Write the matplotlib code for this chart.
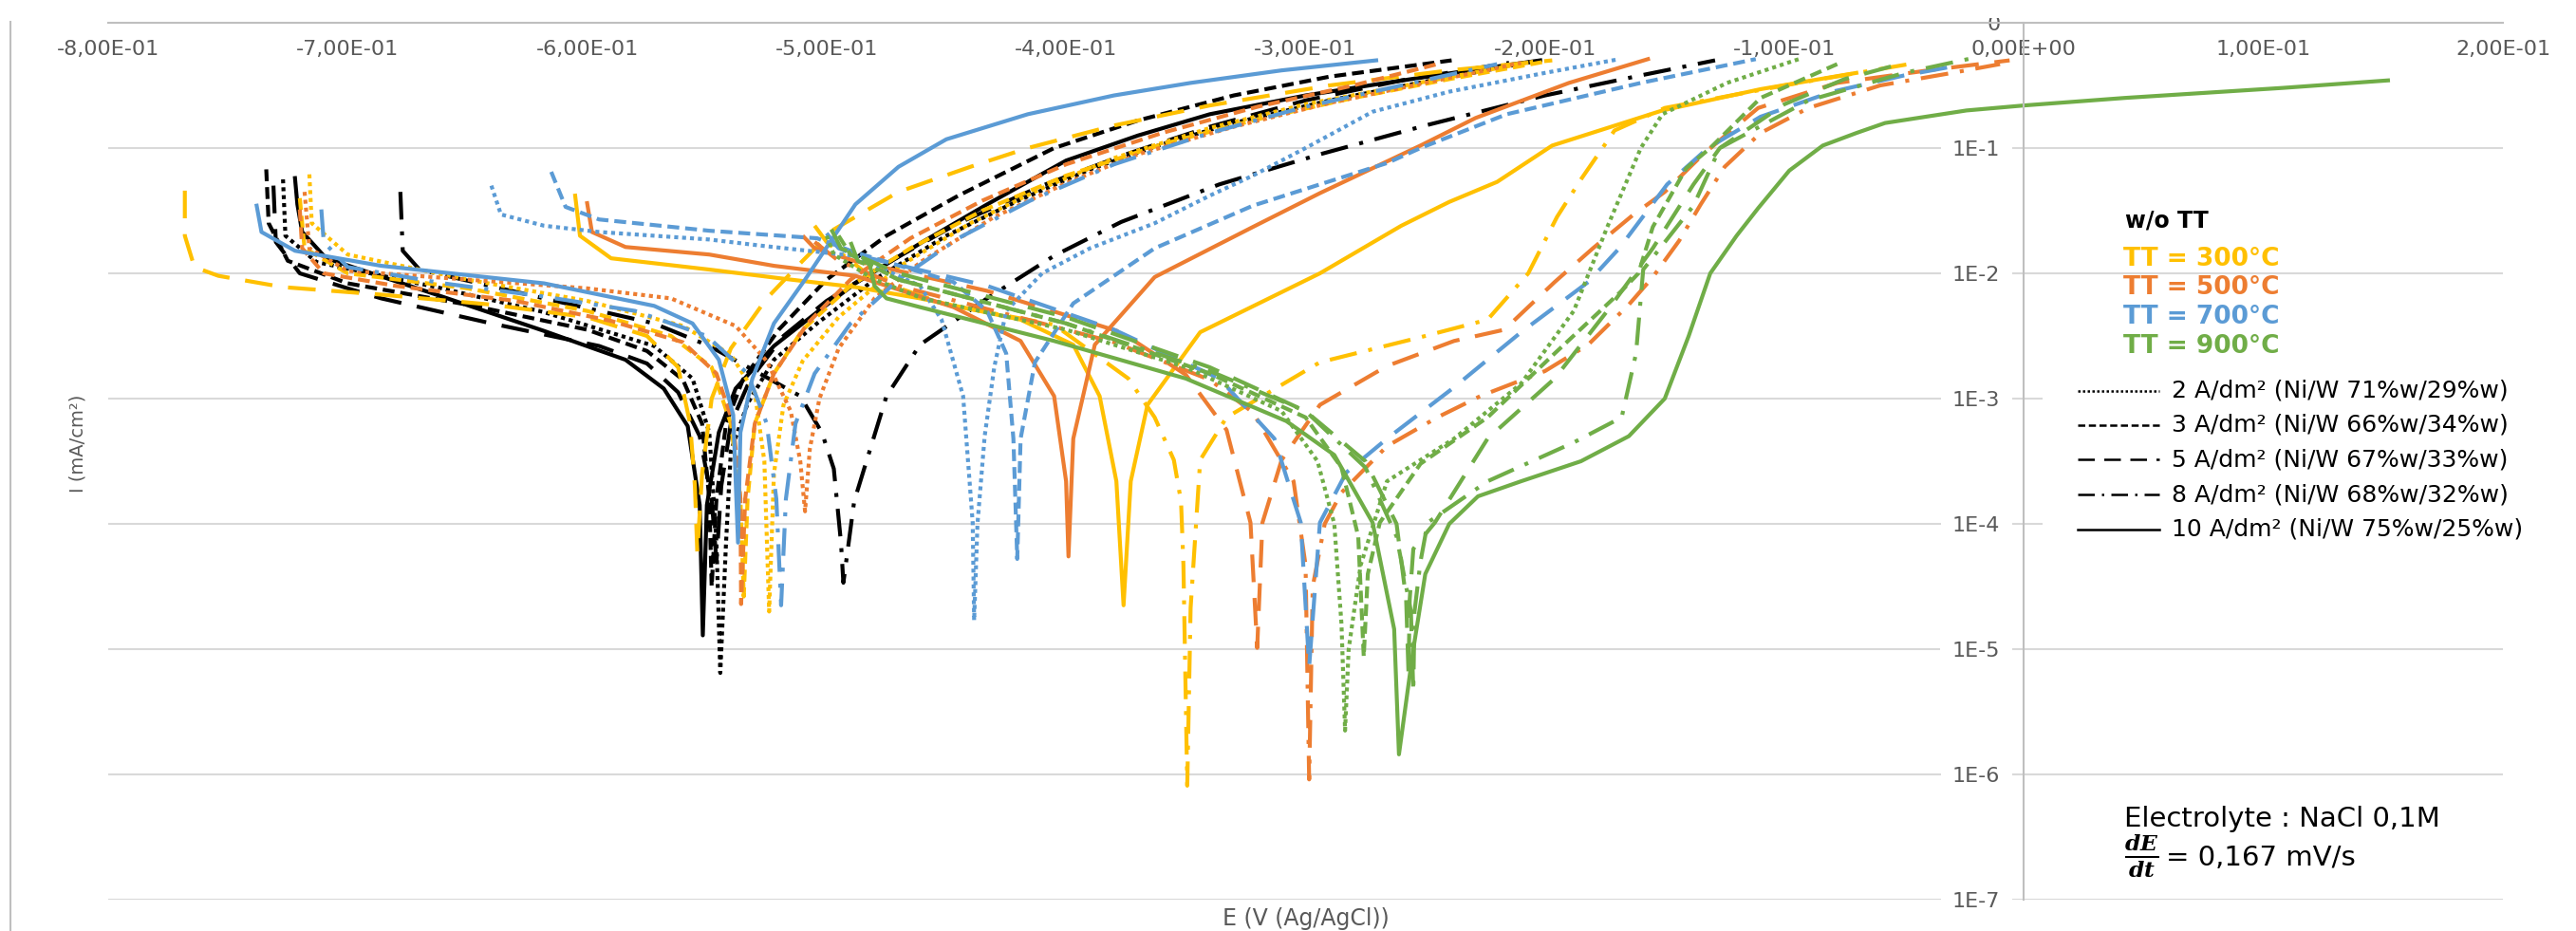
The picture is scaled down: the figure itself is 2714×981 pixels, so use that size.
import matplotlib.pyplot as plt
import numpy as np
from matplotlib.lines import Line2D
from matplotlib.patches import Rectangle
from matplotlib.ticker import FixedLocator, NullLocator, FuncFormatter

plt.rcParams['font.family'] = ['DejaVu Sans']
plt.rcParams['mathtext.fontset'] = 'dejavuserif'

W, H = 2714, 981

# Polarisation curves: E in V vs Ag/AgCl, lg = log10(I in mA/cm2)
# --- w/o TT (black) ---
k2_E = [-0.727, -0.726, -0.713, -0.663, -0.618, -0.572, -0.556, -0.549, -0.546, -0.5444, -0.542, -0.540,
        -0.533, -0.522, -0.504, -0.480, -0.450, -0.420, -0.390, -0.360, -0.330, -0.290, -0.250, -0.205]
k2_lg = [-1.25, -1.70, -1.91, -2.11, -2.31, -2.58, -2.84, -3.27, -4.15, -5.19, -4.15, -3.42,
         -3.04, -2.69, -2.40, -2.05, -1.70, -1.42, -1.17, -0.97, -0.80, -0.62, -0.47, -0.31]
k3_E = [-0.734, -0.733, -0.725, -0.700, -0.650, -0.600, -0.575, -0.560, -0.552, -0.549, -0.548, -0.546,
        -0.542, -0.535, -0.520, -0.500, -0.475, -0.445, -0.405, -0.370, -0.330, -0.290, -0.239]
k3_lg = [-1.17, -1.60, -1.90, -2.08, -2.25, -2.45, -2.62, -2.85, -3.20, -3.80, -4.50, -3.80,
         -3.20, -2.85, -2.45, -2.05, -1.70, -1.38, -1.00, -0.78, -0.58, -0.43, -0.30]
k5_E = [-0.731, -0.730, -0.720, -0.700, -0.686, -0.640, -0.595, -0.575, -0.562, -0.553, -0.548, -0.546, -0.544,
        -0.540, -0.532, -0.518, -0.500, -0.475, -0.445, -0.410, -0.375, -0.340, -0.300, -0.260, -0.215]
k5_lg = [-1.30, -1.75, -2.00, -2.12, -2.20, -2.40, -2.58, -2.72, -2.95, -3.30, -3.80, -4.30, -3.70,
         -3.20, -2.85, -2.50, -2.22, -1.92, -1.60, -1.30, -1.05, -0.83, -0.62, -0.46, -0.32]
k8_E = [-0.678, -0.677, -0.670, -0.618, -0.572, -0.549, -0.527, -0.511, -0.502, -0.497, -0.494, -0.493,
        -0.4885, -0.475, -0.461, -0.433, -0.405, -0.377, -0.336, -0.294, -0.250, -0.200, -0.160, -0.129]
k8_lg = [-1.35, -1.82, -1.97, -2.20, -2.40, -2.58, -2.81, -2.98, -3.27, -3.56, -4.15, -4.47,
         -3.82, -2.98, -2.57, -2.20, -1.86, -1.59, -1.29, -1.05, -0.82, -0.58, -0.42, -0.30]
k10_E = [-0.722, -0.721, -0.719, -0.709, -0.663, -0.618, -0.584, -0.568, -0.558, -0.553, -0.5517, -0.550, -0.545,
         -0.538, -0.522, -0.504, -0.488, -0.460, -0.433, -0.400, -0.370, -0.340, -0.300, -0.270, -0.235, -0.202]
k10_lg = [-1.24, -1.45, -1.67, -1.88, -2.17, -2.46, -2.69, -2.92, -3.22, -3.85, -4.89, -3.85, -3.27,
          -2.92, -2.58, -2.31, -2.08, -1.75, -1.45, -1.10, -0.90, -0.73, -0.58, -0.49, -0.39, -0.30]

# --- TT = 300 C (yellow) ---
y2_E = [-0.716, -0.715, -0.700, -0.650, -0.600, -0.560, -0.540, -0.530, -0.526, -0.524, -0.522,
        -0.518, -0.510, -0.495, -0.470, -0.440, -0.410, -0.380, -0.340, -0.300, -0.250, -0.205]
y2_lg = [-1.21, -1.60, -1.85, -2.05, -2.22, -2.42, -2.65, -2.95, -3.50, -4.70, -3.60,
         -3.05, -2.70, -2.35, -1.95, -1.60, -1.32, -1.08, -0.84, -0.65, -0.47, -0.31]
y3_E = [-0.720, -0.718, -0.700, -0.650, -0.600, -0.565, -0.548, -0.540, -0.536, -0.5346, -0.533, -0.530,
        -0.522, -0.510, -0.490, -0.465, -0.435, -0.400, -0.360, -0.320, -0.280, -0.240, -0.200]
y3_lg = [-1.40, -1.80, -2.00, -2.12, -2.30, -2.50, -2.75, -3.20, -3.80, -4.58, -3.80, -3.20,
         -2.80, -2.45, -2.10, -1.80, -1.50, -1.22, -0.97, -0.77, -0.60, -0.45, -0.31]
y5_E = [-0.768, -0.768, -0.764, -0.754, -0.727, -0.686, -0.640, -0.600, -0.575, -0.562, -0.557, -0.555, -0.554,
        -0.552, -0.548, -0.540, -0.525, -0.510, -0.497, -0.470, -0.440, -0.416, -0.380, -0.340, -0.290, -0.240, -0.197]
y5_lg = [-1.34, -1.70, -1.95, -2.02, -2.11, -2.17, -2.25, -2.35, -2.50, -2.75, -3.20, -3.70, -4.23,
         -3.60, -3.00, -2.60, -2.20, -1.90, -1.65, -1.35, -1.15, -1.00, -0.82, -0.66, -0.50, -0.38, -0.30]
y8_E = [-0.505, -0.500, -0.480, -0.450, -0.405, -0.374, -0.363, -0.355, -0.352, -0.351, -0.3494, -0.348, -0.344,
        -0.333, -0.294, -0.252, -0.224, -0.207, -0.195, -0.185, -0.176, -0.171, -0.150, -0.100, -0.045]
y8_lg = [-1.62, -1.75, -2.05, -2.25, -2.41, -2.84, -3.15, -3.49, -3.82, -4.33, -6.09, -4.67, -3.49,
         -3.15, -2.71, -2.51, -2.37, -2.00, -1.55, -1.25, -1.00, -0.86, -0.68, -0.50, -0.32]
y10_E = [-0.605, -0.603, -0.590, -0.549, -0.515, -0.488, -0.461, -0.419, -0.397, -0.386, -0.379, -0.376,
         -0.373, -0.366, -0.344, -0.294, -0.260, -0.240, -0.220, -0.197, -0.151, -0.110, -0.070]
y10_lg = [-1.38, -1.70, -1.88, -1.97, -2.05, -2.11, -2.20, -2.37, -2.57, -2.98, -3.66, -4.65,
          -3.66, -3.05, -2.47, -2.00, -1.62, -1.43, -1.27, -0.98, -0.70, -0.53, -0.40]

# --- TT = 500 C (orange) ---
o2_E = [-0.718, -0.716, -0.700, -0.650, -0.600, -0.565, -0.538, -0.525, -0.515, -0.511, -0.509, -0.507,
        -0.503, -0.495, -0.480, -0.460, -0.430, -0.400, -0.370, -0.330, -0.290, -0.250, -0.210]
o2_lg = [-1.35, -1.80, -1.98, -2.05, -2.12, -2.20, -2.42, -2.70, -3.10, -3.50, -3.90, -3.40,
         -3.00, -2.60, -2.20, -1.90, -1.55, -1.28, -1.05, -0.83, -0.64, -0.48, -0.32]
o3_E = [-0.720, -0.719, -0.710, -0.680, -0.630, -0.590, -0.560, -0.546, -0.539, -0.536, -0.5357, -0.534,
        -0.530, -0.522, -0.508, -0.490, -0.465, -0.435, -0.400, -0.360, -0.320, -0.280, -0.245]
o3_lg = [-1.49, -1.80, -2.00, -2.10, -2.22, -2.38, -2.55, -2.80, -3.20, -3.80, -4.64, -3.80,
         -3.20, -2.80, -2.40, -2.05, -1.72, -1.42, -1.13, -0.88, -0.67, -0.50, -0.33]
o5_E = [-0.510, -0.505, -0.4885, -0.433, -0.377, -0.350, -0.333, -0.323, -0.3202, -0.318, -0.310, -0.294,
        -0.266, -0.238, -0.217, -0.196, -0.180, -0.163, -0.150, -0.134, -0.111, -0.078, -0.040, -0.006]
o5_lg = [-1.70, -1.80, -1.90, -2.14, -2.47, -2.81, -3.25, -3.99, -4.99, -3.99, -3.49, -3.05,
         -2.74, -2.54, -2.45, -2.07, -1.80, -1.53, -1.35, -1.05, -0.68, -0.48, -0.38, -0.30]
o8_E = [-0.505, -0.495, -0.470, -0.430, -0.380, -0.340, -0.322, -0.305, -0.300, -0.2985, -0.297, -0.292, -0.285, -0.266,
        -0.245, -0.227, -0.200, -0.182, -0.165, -0.155, -0.144, -0.135, -0.125, -0.110, -0.090, -0.060, -0.030, -0.010]
o8_lg = [-1.75, -1.90, -2.10, -2.30, -2.55, -2.85, -3.11, -3.66, -4.33, -6.04, -4.50, -4.00, -3.75, -3.38,
         -3.15, -2.98, -2.78, -2.57, -2.25, -2.03, -1.74, -1.45, -1.15, -0.88, -0.68, -0.50, -0.40, -0.33]
o10_E = [-0.600, -0.598, -0.584, -0.549, -0.522, -0.488, -0.447, -0.419, -0.405, -0.400, -0.399, -0.397,
         -0.388, -0.363, -0.322, -0.294, -0.252, -0.229, -0.190, -0.157]
o10_lg = [-1.44, -1.67, -1.79, -1.85, -1.94, -2.02, -2.27, -2.54, -2.98, -3.66, -4.26, -3.32,
          -2.57, -2.03, -1.63, -1.36, -0.98, -0.76, -0.48, -0.29]

# --- TT = 700 C (blue) ---
b2_E = [-0.640, -0.636, -0.618, -0.595, -0.549, -0.527, -0.4885, -0.461, -0.452, -0.443, -0.439, -0.4384, -0.437,
        -0.434, -0.430, -0.425, -0.410, -0.390, -0.363, -0.340, -0.322, -0.300, -0.272, -0.240, -0.200, -0.169]
b2_lg = [-1.30, -1.53, -1.62, -1.67, -1.73, -1.78, -1.86, -2.10, -2.37, -2.98, -3.99, -4.77, -4.00,
         -3.30, -2.75, -2.30, -2.00, -1.80, -1.60, -1.38, -1.22, -1.00, -0.71, -0.55, -0.40, -0.29]
b3_E = [-0.615, -0.609, -0.595, -0.549, -0.504, -0.4885, -0.447, -0.433, -0.425, -0.422, -0.4204,
        -0.419, -0.413, -0.397, -0.363, -0.322, -0.266, -0.252, -0.216, -0.160, -0.112]
b3_lg = [-1.19, -1.47, -1.57, -1.66, -1.72, -1.83, -2.07, -2.30, -2.64, -3.32, -4.28,
         -3.32, -2.71, -2.24, -1.80, -1.46, -1.12, -1.00, -0.73, -0.48, -0.29]
b5_E = [-0.500, -0.495, -0.4885, -0.433, -0.380, -0.336, -0.313, -0.302, -0.2985, -0.294, -0.283,
        -0.266, -0.238, -0.210, -0.182, -0.169, -0.149, -0.132, -0.110, -0.080, -0.050, -0.030]
b5_lg = [-1.68, -1.80, -1.85, -2.10, -2.45, -2.84, -3.32, -3.99, -5.14, -3.99, -3.59,
         -3.32, -2.91, -2.47, -2.07, -1.80, -1.29, -1.00, -0.75, -0.55, -0.42, -0.35]
b8_E = [-0.711, -0.710, -0.700, -0.660, -0.620, -0.580, -0.550, -0.533, -0.525, -0.521, -0.519, -0.517,
        -0.513, -0.505, -0.490, -0.470, -0.445, -0.415, -0.380, -0.340, -0.300, -0.260, -0.220]
b8_lg = [-1.49, -1.75, -1.95, -2.08, -2.18, -2.30, -2.50, -2.80, -3.20, -3.80, -4.65, -3.80,
         -3.20, -2.80, -2.40, -2.05, -1.72, -1.42, -1.13, -0.88, -0.67, -0.50, -0.33]
b10_E = [-0.738, -0.736, -0.722, -0.686, -0.618, -0.572, -0.556, -0.545, -0.539, -0.537, -0.536,
         -0.531, -0.522, -0.509, -0.488, -0.470, -0.450, -0.416, -0.380, -0.348, -0.310, -0.2705]
b10_lg = [-1.46, -1.67, -1.82, -1.94, -2.08, -2.26, -2.40, -2.69, -3.13, -4.15, -3.27,
          -2.84, -2.40, -2.05, -1.45, -1.15, -0.93, -0.73, -0.58, -0.48, -0.38, -0.30]

# --- TT = 900 C (green) ---
g2_E = [-0.500, -0.497, -0.480, -0.460, -0.400, -0.350, -0.310, -0.295, -0.288, -0.285, -0.2835,
        -0.282, -0.277, -0.266, -0.238, -0.210, -0.188, -0.174, -0.160, -0.151, -0.124, -0.094]
g2_lg = [-1.70, -1.85, -2.05, -2.20, -2.45, -2.75, -3.10, -3.50, -4.00, -4.80, -5.65,
         -5.00, -4.33, -3.66, -3.32, -2.88, -2.30, -1.63, -1.00, -0.73, -0.48, -0.29]
g3_E = [-0.495, -0.490, -0.470, -0.450, -0.400, -0.340, -0.300, -0.285, -0.278, -0.2757, -0.274,
        -0.269, -0.252, -0.224, -0.196, -0.168, -0.161, -0.155, -0.141, -0.131, -0.110, -0.078]
g3_lg = [-1.70, -1.85, -2.05, -2.15, -2.40, -2.80, -3.15, -3.55, -4.10, -5.06, -4.40,
         -3.99, -3.52, -3.15, -2.64, -2.14, -2.00, -1.63, -1.16, -1.00, -0.60, -0.33]
g5_E = [-0.498, -0.494, -0.470, -0.450, -0.400, -0.340, -0.300, -0.275, -0.262, -0.258, -0.257, -0.2565,
        -0.255, -0.246, -0.224, -0.196, -0.174, -0.155, -0.138, -0.127, -0.100, -0.075, -0.050]
g5_lg = [-1.65, -1.80, -2.00, -2.10, -2.35, -2.75, -3.10, -3.50, -4.00, -4.60, -5.20, -4.60,
         -4.20, -3.99, -3.32, -2.84, -2.30, -1.80, -1.29, -1.00, -0.65, -0.45, -0.32]
g8_E = [-0.490, -0.487, -0.470, -0.450, -0.400, -0.340, -0.300, -0.275, -0.262, -0.256, -0.255, -0.2545,
        -0.252, -0.249, -0.224, -0.188, -0.168, -0.162, -0.159, -0.138, -0.127, -0.090, -0.050, -0.021]
g8_lg = [-1.75, -1.90, -2.05, -2.15, -2.40, -2.78, -3.10, -3.55, -4.10, -4.70, -5.34, -4.70,
         -4.30, -3.99, -3.66, -3.35, -3.15, -2.64, -1.97, -1.46, -1.00, -0.62, -0.40, -0.28]
g10_E = [-0.482, -0.480, -0.475, -0.461, -0.405, -0.350, -0.308, -0.288, -0.272, -0.263, -0.261, -0.255,
         -0.250, -0.240, -0.228, -0.210, -0.185, -0.165, -0.155, -0.150, -0.140, -0.131, -0.120, -0.111,
         -0.098, -0.084, -0.070, -0.058, -0.024, 0.000, 0.042, 0.108, 0.152]
g10_lg = [-1.93, -2.10, -2.20, -2.27, -2.54, -2.84, -3.18, -3.45, -3.99, -4.84, -5.84, -5.00,
          -4.40, -4.00, -3.78, -3.66, -3.50, -3.30, -3.10, -3.00, -2.50, -2.00, -1.70, -1.48,
          -1.18, -0.98, -0.88, -0.80, -0.70, -0.66, -0.60, -0.52, -0.46]

x_ticks = [-0.8, -0.7, -0.6, -0.5, -0.4, -0.3, -0.2, -0.1, 0.0, 0.1, 0.2]
y_ticks = [1e-7, 1e-6, 1e-5, 1e-4, 1e-3, 1e-2, 1e-1, 1e0]
y_labels = ['1E-7', '1E-6', '1E-5', '1E-4', '1E-3', '1E-2', '1E-1', '0']

tt_labels = ['TT = 300°C', 'TT = 500°C', 'TT = 700°C', 'TT = 900°C']
density_labels = ['2 A/dm² (Ni/W 71%w/29%w)', '3 A/dm² (Ni/W 66%w/34%w)', '5 A/dm² (Ni/W 67%w/33%w)',
                  '8 A/dm² (Ni/W 68%w/32%w)', '10 A/dm² (Ni/W 75%w/25%w)']

YELLOW, ORANGE, BLUE, GREEN = '#FFC000', '#ED7D31', '#5B9BD5', '#70AD47'
GREY_TXT, GREY_AX, GREY_GRID = '#595959', '#BFBFBF', '#D9D9D9'

dash = {'2': (0, (1, 1)), '3': (0, (3, 1.5)), '5': (0, (7, 4)), '8': (0, (7, 3, 1, 3)), '10': '-'}

series = [
    (k2_E, k2_lg, 'black', '2'), (k3_E, k3_lg, 'black', '3'), (k5_E, k5_lg, 'black', '5'),
    (k8_E, k8_lg, 'black', '8'), (k10_E, k10_lg, 'black', '10'),
    (y2_E, y2_lg, YELLOW, '2'), (y3_E, y3_lg, YELLOW, '3'), (y5_E, y5_lg, YELLOW, '5'),
    (y8_E, y8_lg, YELLOW, '8'), (y10_E, y10_lg, YELLOW, '10'),
    (o2_E, o2_lg, ORANGE, '2'), (o3_E, o3_lg, ORANGE, '3'), (o5_E, o5_lg, ORANGE, '5'),
    (o8_E, o8_lg, ORANGE, '8'), (o10_E, o10_lg, ORANGE, '10'),
    (b2_E, b2_lg, BLUE, '2'), (b3_E, b3_lg, BLUE, '3'), (b5_E, b5_lg, BLUE, '5'),
    (b8_E, b8_lg, BLUE, '8'), (b10_E, b10_lg, BLUE, '10'),
    (g2_E, g2_lg, GREEN, '2'), (g3_E, g3_lg, GREEN, '3'), (g5_E, g5_lg, GREEN, '5'),
    (g8_E, g8_lg, GREEN, '8'), (g10_E, g10_lg, GREEN, '10'),
]


def fx(x):
    return x / W


def fy(y):
    return 1 - y / H


fig = plt.figure(figsize=(W / 100, H / 100), dpi=100)
ax = fig.add_axes([fx(114), fy(948), (2637 - 114) / W, (948 - 24) / H])

for E, lg, col, key in series:
    ax.plot(E, 10 ** np.asarray(lg), color=col, lw=3.0, linestyle=dash[key],
            solid_joinstyle='round', dash_joinstyle='round')

ax.set_yscale('log')
ax.set_xlim(-0.8, 0.2)
ax.set_ylim(1e-7, 1)

ax.yaxis.set_major_locator(FixedLocator(y_ticks))
ax.yaxis.set_minor_locator(NullLocator())
ax.set_yticklabels(y_labels)
ax.xaxis.set_major_locator(FixedLocator(x_ticks))
ax.xaxis.set_major_formatter(FuncFormatter(lambda v, p: f'{v:.2E}'.replace('.', ',')))

ax.yaxis.grid(True, color=GREY_GRID, lw=1.5)
ax.xaxis.grid(False)

ax.spines['top'].set_visible(False)
ax.spines['right'].set_visible(False)
ax.spines['left'].set_position(('data', 0))
ax.spines['bottom'].set_position(('axes', 1))
for s in ('left', 'bottom'):
    ax.spines[s].set_color(GREY_AX)
    ax.spines[s].set_linewidth(1.5)

ax.tick_params(axis='x', length=0, pad=13, labelsize=16, labelcolor=GREY_TXT)
ax.tick_params(axis='y', length=0, pad=18, labelsize=16, labelcolor=GREY_TXT)
for t in ax.yaxis.get_major_ticks()[:-1]:
    t.label1.set_bbox(dict(facecolor='white', edgecolor='none', pad=9))

# top label sits partly outside the chart area
fig.add_artist(Rectangle((fx(2060), fy(19)), 70 / W, 19 / H, transform=fig.transFigure,
                         facecolor='white', edgecolor='none', zorder=10))

# chart area border on the left
fig.add_artist(Line2D([fx(10.5), fx(10.5)], [fy(23), 0], color=GREY_AX, lw=1.5))

fig.text(fx(1376), fy(968), 'E (V (Ag/AgCl))', ha='center', va='center', fontsize=17, color=GREY_TXT)
fig.text(fx(82), fy(467), 'I (mA/cm²)', rotation=90, ha='center', va='center', fontsize=14, color=GREY_TXT)

# legend block
fig.add_artist(Rectangle((fx(2152), fy(580)), (W - 2152) / W, (580 - 388) / H, transform=fig.transFigure,
                         facecolor='white', edgecolor='none', zorder=1))
fig.text(fx(2239), fy(232), 'w/o TT', fontsize=17, fontweight='bold', color='black', va='center')
for lab, col, yy in zip(tt_labels, [YELLOW, ORANGE, BLUE, GREEN], [273, 303, 334, 365]):
    fig.text(fx(2237), fy(yy), lab, fontsize=19, fontweight='bold', color=col, va='center')
for lab, key, yy in zip(density_labels, ['2', '3', '5', '8', '10'], [412, 448, 484, 521, 558]):
    fig.add_artist(Line2D([fx(2189), fx(2275)], [fy(yy), fy(yy)], color='black', lw=1.8, linestyle=dash[key]))
    fig.text(fx(2288), fy(yy), lab, fontsize=18, color='black', va='center')

fig.text(fx(2238), fy(863), 'Electrolyte : NaCl 0,1M', fontsize=21, color='black', va='center')
fig.text(fx(2238), fy(902), r'$\frac{\mathbfit{dE}}{\mathbfit{dt}}$', fontsize=24, color='black', va='center')
fig.text(fx(2282), fy(904), '= 0,167 mV/s', fontsize=21, color='black', va='center')

fig.savefig('out.png', dpi=100)
